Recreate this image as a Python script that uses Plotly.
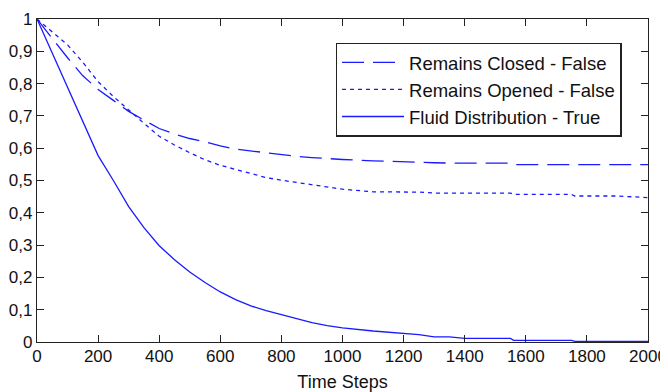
import plotly.graph_objects as go

time_steps = [0, 50, 100, 150, 200, 250, 300, 350, 400, 450, 500, 550, 600, 650, 700, 750, 800, 850,
              900, 950, 1000, 1100, 1200, 1250, 1300, 1350, 1400, 1500, 1550, 1560, 1750, 1760, 1900, 2000]
remains_closed = [1.0, 0.94, 0.88, 0.824, 0.782, 0.748, 0.714, 0.687, 0.661, 0.644, 0.630, 0.620, 0.607,
                  0.597, 0.591, 0.587, 0.580, 0.575, 0.571, 0.567, 0.565, 0.561, 0.557, 0.556, 0.555,
                  0.554, 0.554, 0.554, 0.554, 0.549, 0.549, 0.549, 0.549, 0.549]
remains_opened = [1.0, 0.96, 0.92, 0.866, 0.806, 0.760, 0.717, 0.677, 0.637, 0.610, 0.586, 0.564, 0.547,
                  0.534, 0.520, 0.509, 0.501, 0.494, 0.488, 0.480, 0.473, 0.465, 0.465, 0.464, 0.461,
                  0.461, 0.461, 0.461, 0.461, 0.457, 0.457, 0.452, 0.452, 0.447]
fluid_distribution = [1.0, 0.895, 0.79, 0.682, 0.577, 0.50, 0.419, 0.354, 0.298, 0.255, 0.217, 0.184, 0.155,
                      0.131, 0.112, 0.097, 0.085, 0.072, 0.060, 0.051, 0.044, 0.034, 0.027, 0.023, 0.016,
                      0.016, 0.011, 0.011, 0.011, 0.005, 0.005, 0.002, 0.002, 0.002]

series_names = ["Remains Closed - False", "Remains Opened - False", "Fluid Distribution - True"]
x_ticks = [0, 200, 400, 600, 800, 1000, 1200, 1400, 1600, 1800, 2000]
y_ticks = [0, 0.1, 0.2, 0.3, 0.4, 0.5, 0.6, 0.7, 0.8, 0.9, 1]

BLUE = "#1a1aff"
FONT = "Liberation Sans, Arial, sans-serif"

fig = go.Figure()
fig.add_trace(go.Scatter(x=time_steps, y=remains_closed, mode="lines", name=series_names[0],
                         line=dict(color=BLUE, width=1.3, dash="22px,9px")))
fig.add_trace(go.Scatter(x=time_steps, y=remains_opened, mode="lines", name=series_names[1],
                         line=dict(color=BLUE, width=1.3, dash="4px,4px")))
fig.add_trace(go.Scatter(x=time_steps, y=fluid_distribution, mode="lines", name=series_names[2],
                         line=dict(color=BLUE, width=1.3)))

axis_common = dict(showline=True, linecolor="#222", linewidth=1.3, mirror="ticks", ticks="inside",
                   ticklen=7, tickwidth=1.3, tickcolor="#222", showgrid=False, zeroline=False,
                   automargin=False,
                   tickfont=dict(family=FONT, size=17, color="#111"))

# page body has an 8px margin, so the figure is 660x384 placed at (8, 8)
fig.update_layout(
    width=660, height=384,
    margin=dict(l=29, r=20, t=11, b=50, autoexpand=False),
    paper_bgcolor="white", plot_bgcolor="white",
    separators=",.",
    font=dict(family=FONT, size=17, color="#111"),
    xaxis=dict(range=[0, 2000], tickvals=x_ticks, ticklabelstandoff=-2,
               title=dict(text="Time Steps", standoff=10,
                          font=dict(family=FONT, size=18, color="#111")), **axis_common),
    yaxis=dict(range=[0, 1], tickvals=y_ticks, ticklabelstandoff=0, **axis_common),
    legend=dict(x=0.957, y=0.927, xanchor="right", yanchor="top", bgcolor="white",
                bordercolor="#222", borderwidth=1.3, itemwidth=62,
                font=dict(family=FONT, size=18.5, color="#111")),
    showlegend=True,
)

fig.write_html("out.html")
